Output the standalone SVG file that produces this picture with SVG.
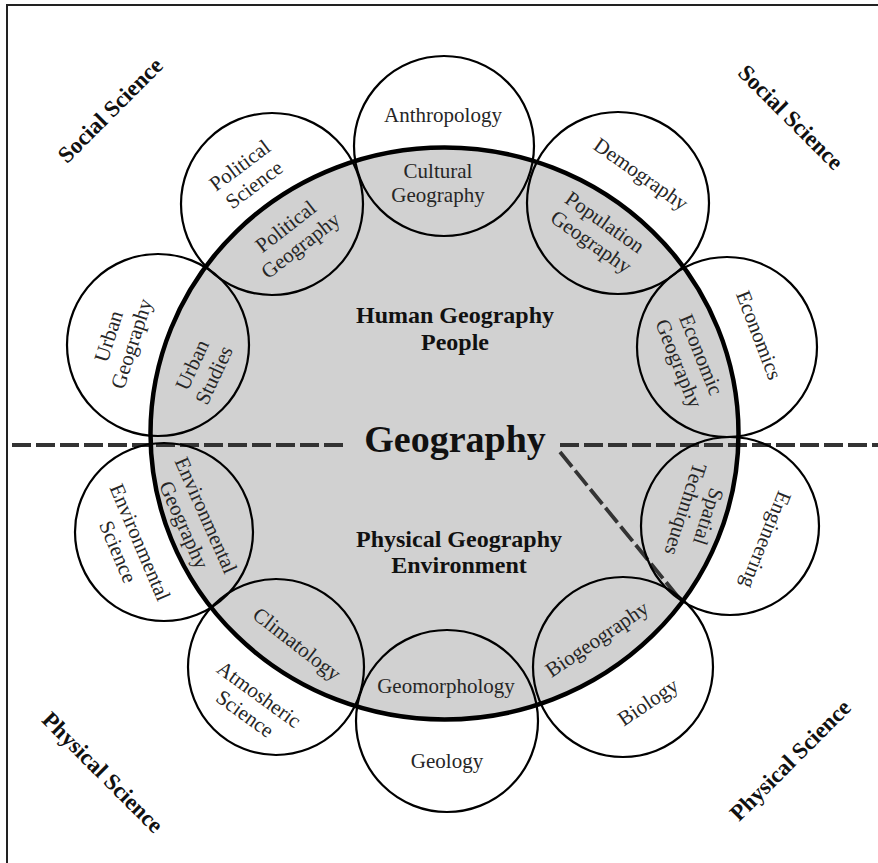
<svg xmlns="http://www.w3.org/2000/svg" width="878" height="863" viewBox="0 0 878 863">
<style>
.bg{fill:#ffffff}
.frame{fill:none;stroke:#222;stroke-width:2}
.main{fill:#d1d1d1}
.mainstroke{fill:none;stroke:#000;stroke-width:4.5}
.sc{fill:none;stroke:#000;stroke-width:2.2}
.lbl{font-family:"Liberation Serif","Times New Roman",serif;font-size:21px;fill:#262626;text-anchor:middle}
.hd{font-family:"Liberation Serif","Times New Roman",serif;font-size:24px;font-weight:bold;fill:#111;text-anchor:middle}
.corner{font-family:"Liberation Serif","Times New Roman",serif;font-size:23px;font-weight:bold;fill:#111;text-anchor:middle}
.title{font-family:"Liberation Serif","Times New Roman",serif;font-size:38px;font-weight:bold;fill:#111;text-anchor:middle}
.dash{fill:none;stroke:#333;stroke-width:3.8;stroke-dasharray:19 5}
</style>
<rect class="bg" x="0" y="0" width="878" height="863"/>
<path class="frame" d="M7,870 V5 H880"/>

<g id="geography-core">
  <ellipse class="main" cx="444.5" cy="433.5" rx="294" ry="286"/>
</g>

<g id="connectors">
  <line class="dash" x1="12" y1="445" x2="345" y2="445"/>
  <line class="dash" x1="560" y1="445" x2="878" y2="445"/>
  <line class="dash" x1="560" y1="452" x2="683" y2="603"/>
</g>

<g id="anthropology">
  <circle class="sc" cx="444" cy="146" r="90"/>
  <text class="lbl" x="443" y="122">Anthropology</text>
  <text class="lbl" x="438" y="178">Cultural<tspan x="438" dy="24">Geography</tspan></text>
</g>
<g id="demography">
  <circle class="sc" cx="618" cy="203" r="91"/>
  <text class="lbl" transform="translate(641,174) rotate(35)" x="0" y="7">Demography</text>
  <text class="lbl" transform="translate(598,232) rotate(35)" x="0" y="-5">Population<tspan x="0" dy="24">Geography</tspan></text>
</g>
<g id="economics">
  <circle class="sc" cx="727" cy="347" r="90"/>
  <text class="lbl" transform="translate(759,335) rotate(69)" x="0" y="7">Economics</text>
  <text class="lbl" transform="translate(690,359) rotate(68)" x="0" y="-5">Economic<tspan x="0" dy="24">Geography</tspan></text>
</g>
<g id="engineering">
  <circle class="sc" cx="730" cy="526" r="89"/>
  <text class="lbl" transform="translate(766,540) rotate(112)" x="0" y="7">Engineering</text>
  <text class="lbl" transform="translate(697,513) rotate(108)" x="0" y="-5">Spatial<tspan x="0" dy="24">Techniques</tspan></text>
</g>
<g id="biology">
  <circle class="sc" cx="623" cy="667" r="90"/>
  <text class="lbl" transform="translate(648,702) rotate(-34)" x="0" y="7">Biology</text>
  <text class="lbl" transform="translate(597,639) rotate(-34)" x="0" y="7">Biogeography</text>
</g>
<g id="geology">
  <circle class="sc" cx="447" cy="721" r="91"/>
  <text class="lbl" x="446" y="693">Geomorphology</text>
  <text class="lbl" x="447" y="768">Geology</text>
</g>
<g id="atmospheric-science">
  <circle class="sc" cx="276" cy="667" r="88"/>
  <text class="lbl" transform="translate(297,644) rotate(38)" x="0" y="7">Climatology</text>
  <text class="lbl" transform="translate(252,704) rotate(36)" x="0" y="-5">Atmosheric<tspan x="0" dy="24">Science</tspan></text>
</g>
<g id="environmental-science">
  <circle class="sc" cx="164" cy="532" r="89"/>
  <text class="lbl" transform="translate(195,520) rotate(66)" x="0" y="-5">Environmental<tspan x="0" dy="24">Geography</tspan></text>
  <text class="lbl" transform="translate(129,547) rotate(67)" x="0" y="-5">Environmental<tspan x="0" dy="24">Science</tspan></text>
</g>
<g id="urban-geography">
  <circle class="sc" cx="158" cy="345" r="91"/>
  <text class="lbl" transform="translate(120,340) rotate(-72)" x="0" y="-5">Urban<tspan x="0" dy="24">Geography</tspan></text>
  <text class="lbl" transform="translate(203,370) rotate(-65)" x="0" y="-5">Urban<tspan x="0" dy="24">Studies</tspan></text>
</g>
<g id="political-science">
  <circle class="sc" cx="272" cy="204" r="91"/>
  <text class="lbl" transform="translate(247,175) rotate(-37)" x="0" y="-5">Political<tspan x="0" dy="24">Science</tspan></text>
  <text class="lbl" transform="translate(293,236) rotate(-38)" x="0" y="-5">Political<tspan x="0" dy="24">Geography</tspan></text>
</g>

<g id="geography-outline">
  <ellipse class="mainstroke" cx="444.5" cy="433.5" rx="294" ry="286"/>
</g>

<g id="labels">
  <text class="title" x="455" y="452">Geography</text>
  <text class="hd" x="455" y="323">Human Geography<tspan x="455" dy="27">People</tspan></text>
  <text class="hd" x="459" y="547">Physical Geography<tspan x="459" dy="26">Environment</tspan></text>
  <text class="corner" transform="translate(110,110) rotate(-45)" x="0" y="8">Social Science</text>
  <text class="corner" transform="translate(791,117) rotate(45)" x="0" y="8">Social Science</text>
  <text class="corner" transform="translate(103,772) rotate(45)" x="0" y="8">Physical Science</text>
  <text class="corner" transform="translate(790,760) rotate(-45)" x="0" y="8">Physical Science</text>
</g>
</svg>
